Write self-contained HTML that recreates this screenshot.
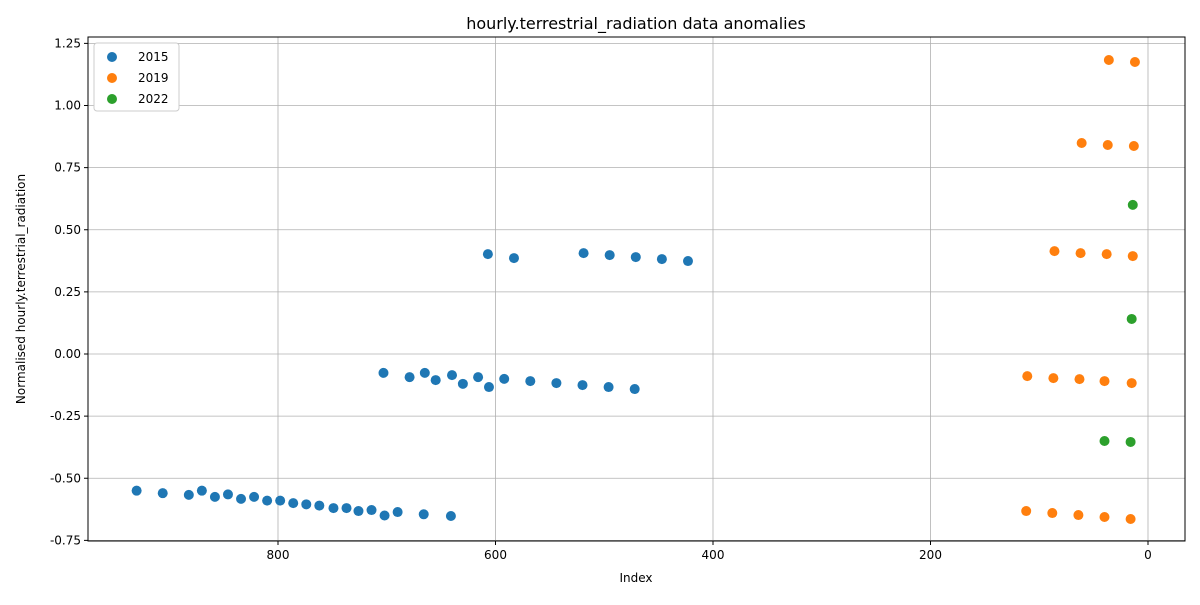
<!DOCTYPE html>
<html><head><meta charset="utf-8"><style>body{margin:0;background:#fff}svg{font-family:"DejaVu Sans","Liberation Sans",sans-serif}</style></head>
<body>
<svg id="c" width="1200" height="600"></svg>
<script>
const s2015x=[930,906,882,870,858,846,834,822,810,798,786,774,762,749,737,726,714,702,690,666,641,703,679,665,655,640,630,616,606,592,568,544,520,496,472,607,583,519,495,471,447,423];
const s2015y=[-0.55,-0.56,-0.567,-0.55,-0.575,-0.565,-0.583,-0.575,-0.59,-0.59,-0.6,-0.605,-0.61,-0.62,-0.62,-0.632,-0.628,-0.65,-0.636,-0.645,-0.652,-0.076,-0.093,-0.076,-0.105,-0.085,-0.12,-0.093,-0.133,-0.1,-0.109,-0.117,-0.125,-0.133,-0.141,0.402,0.386,0.406,0.398,0.39,0.382,0.374];
const s2019x=[36,12,61,37,13,86,62,38,14,111,87,63,40,15,112,88,64,40,16];
const s2019y=[1.183,1.175,0.849,0.841,0.837,0.414,0.406,0.402,0.394,-0.089,-0.097,-0.101,-0.109,-0.117,-0.632,-0.64,-0.648,-0.656,-0.664];
const s2022x=[14,15,40,16];
const s2022y=[0.6,0.141,-0.35,-0.354];
const xTicks=[800,600,400,200,0];
const yTicks=[1.25,1.00,0.75,0.50,0.25,0.00,-0.25,-0.50,-0.75];
const L=88,R=1185,T=37,B=541;
const X=v=>1148-v*1.0875, Y=v=>354-v*248.5;
const svg=document.getElementById('c');const NS='http://www.w3.org/2000/svg';
function el(t,a,txt){const e=document.createElementNS(NS,t);for(const k in a)e.setAttribute(k,a[k]);if(txt!==undefined)e.textContent=txt;svg.appendChild(e);return e;}
xTicks.forEach(v=>{const g=el('line',{x1:X(v),x2:X(v),y1:T,y2:B,stroke:'#b0b0b0','stroke-width':0.8});
el('line',{x1:X(v),x2:X(v),y1:B,y2:B+4,stroke:'#000'});
const t=el('text',{x:X(v),y:B+18,'text-anchor':'middle','font-size':12},String(v));});
yTicks.forEach(v=>{const g=el('line',{x1:L,x2:R,y1:Y(v),y2:Y(v),stroke:'#b0b0b0','stroke-width':0.8});
el('line',{x1:L-4,x2:L,y1:Y(v),y2:Y(v),stroke:'#000'});
const t=el('text',{x:L-7,y:Y(v)+4,'text-anchor':'end','font-size':12},v.toFixed(2));});
function series(xs,ys,col,name){xs.forEach((x,i)=>{const c=el('circle',{cx:X(x),cy:Y(ys[i]),r:5,fill:col});});}
series(s2015x,s2015y,'#1f77b4','point-2015');series(s2019x,s2019y,'#ff7f0e','point-2019');series(s2022x,s2022y,'#2ca02c','point-2022');
const f=el('rect',{x:L,y:T,width:R-L,height:B-T,fill:'none',stroke:'#000','stroke-width':1});
const t1=el('text',{x:636,y:29,'text-anchor':'middle','font-size':16},'hourly.terrestrial_radiation data anomalies');
const t2=el('text',{x:636,y:582,'text-anchor':'middle','font-size':12},'Index');
const t3=el('text',{x:25,y:289,'text-anchor':'middle','font-size':12,transform:'rotate(-90 25 289)'},'Normalised hourly.terrestrial_radiation');
const lg=el('rect',{x:94,y:43,width:85,height:68,fill:'#fff',stroke:'#ccc',rx:3});
[['2015','#1f77b4'],['2019','#ff7f0e'],['2022','#2ca02c']].forEach((d,i)=>{const c=el('circle',{cx:112,cy:57+i*21,r:5,fill:d[1]});
const t=el('text',{x:138,y:61+i*21,'font-size':12},d[0]);});
</script>
</body></html>
